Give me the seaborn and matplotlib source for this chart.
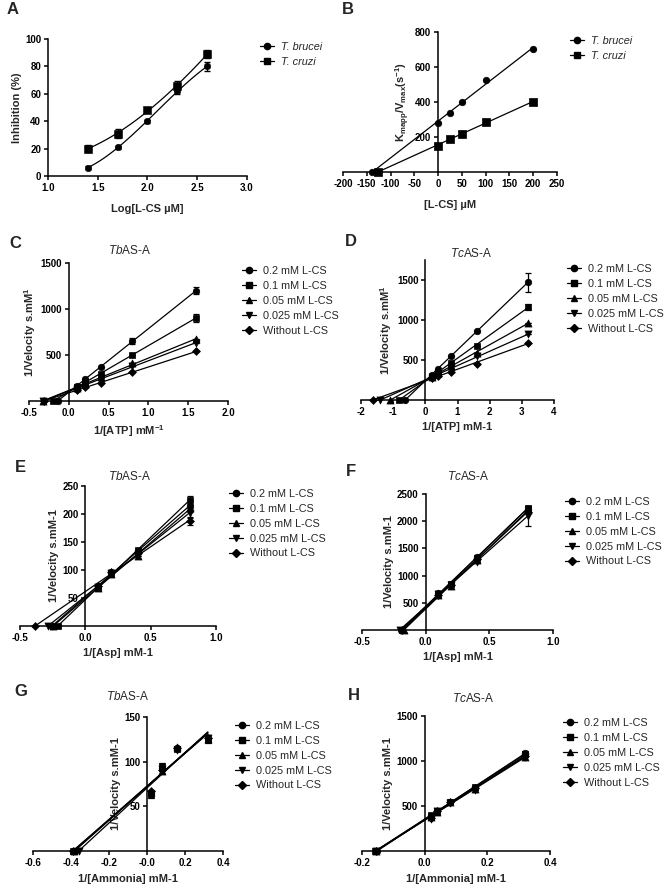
import numpy as np
import pandas as pd
import matplotlib
matplotlib.use("Agg")
import matplotlib.pyplot as plt
from matplotlib.lines import Line2D
import seaborn as sns

# ---- data ----
# A: inhibition vs log concentration
a_logc = [1.4, 1.7, 2.0, 2.3, 2.6]
a_brucei = [6, 21, 40, 62, 80]
a_brucei_err = [1, 1, 1, 2, 3]
a_cruzi = [20, 31, 48, 66, 89]
a_cruzi_err = [2.5, 3.5, 1.5, 3, 3]

# B: Kmapp/Vmax vs [L-CS]
b_conc = [0, 25, 50, 100, 200]
b_brucei = [280, 340, 400, 525, 700]
b_cruzi = [150, 190, 220, 285, 400]

conc_labels = ["0.2 mM L-CS", "0.1 mM L-CS", "0.05 mM L-CS", "0.025 mM L-CS", "Without L-CS"]

# C: TbAS-A, 1/[ATP]
c_x = [0.1, 0.2, 0.4, 0.8, 1.6]
c_y = [[165, 235, 370, 650, 1200],
       [150, 205, 295, 500, 905],
       [140, 185, 260, 410, 670],
       [130, 175, 245, 380, 630],
       [115, 150, 200, 310, 540]]
c_err = [[0, 0, 0, 35, 40], [0, 0, 0, 0, 45], [0, 0, 0, 0, 0], [0, 0, 0, 0, 0], [0, 0, 0, 0, 0]]

# D: TcAS-A, 1/[ATP]
d_x = [0.2, 0.4, 0.8, 1.6, 3.2]
d_y = [[315, 390, 555, 868, 1470],
       [300, 355, 460, 680, 1165],
       [290, 340, 420, 590, 965],
       [280, 325, 395, 545, 820],
       [275, 305, 350, 455, 715]]
d_err = [[0, 0, 0, 0, 115], [0, 0, 0, 0, 40], [0, 0, 0, 0, 0], [0, 0, 0, 0, 0], [0, 0, 0, 0, 0]]

# E: TbAS-A, 1/[Asp]
e_x = [0.1, 0.2, 0.4, 0.8]
e_y = [[70, 96, 133, 215],
       [67, 95, 135, 225],
       [68, 93, 125, 210],
       [69, 94, 128, 202],
       [72, 97, 130, 187]]
e_err = [[0, 0, 0, 8], [0, 0, 3, 8], [0, 0, 0, 6], [0, 0, 0, 8], [0, 0, 0, 6]]

# F: TcAS-A, 1/[Asp]
f_x = [0.1, 0.2, 0.4, 0.8]
f_y = [[680, 850, 1350, 2230],
       [670, 840, 1330, 2240],
       [650, 800, 1280, 2200],
       [660, 820, 1250, 2100],
       [640, 830, 1300, 2170]]
f_err = [[0, 0, 0, 40], [0, 0, 40, 40], [0, 0, 0, 0], [0, 0, 0, 180], [0, 0, 0, 0]]

# G: TbAS-A, 1/[Ammonia]
g_x = [0.02, 0.08, 0.16, 0.32]
g_y = [[65, 93, 115, 126],
       [63, 95, 114, 124],
       [66, 90, 116, 125],
       [64, 92, 113, 127],
       [67, 91, 115, 126]]
g_err = [[0, 0, 3, 0], [4, 3, 0, 3], [0, 0, 0, 0], [0, 0, 0, 0], [0, 0, 0, 0]]

# H: TcAS-A, 1/[Ammonia]
h_x = [0.02, 0.04, 0.08, 0.16, 0.32]
h_y = [[385, 445, 545, 705, 1085],
       [395, 440, 550, 710, 1075],
       [375, 435, 540, 690, 1050],
       [360, 445, 535, 680, 1040],
       [370, 450, 545, 695, 1060]]
h_err = [[30, 0, 0, 0, 25], [0, 0, 20, 20, 0], [0, 0, 0, 0, 0], [0, 0, 0, 0, 0], [0, 0, 0, 0, 0]]

markers = ["o", "s", "^", "v", "D"]
msizes = [22, 20, 26, 26, 16]

sns.set_theme(style="ticks")
plt.rcParams["font.family"] = ["Liberation Sans", "DejaVu Sans"]
plt.rcParams["mathtext.fontset"] = "custom"
plt.rcParams["mathtext.it"] = "Liberation Sans:italic"
plt.rcParams["mathtext.default"] = "regular"
plt.rcParams["axes.unicode_minus"] = False

W, H = 667, 886
fig = plt.figure(figsize=(W / 100, H / 100), dpi=100)
LEG = {"size": 7.8}


def pos(l, r, t, b):
    return [l / W, 1 - b / H, (r - l) / W, (b - t) / H]


def style_axes(ax, xlim, ylim, xticks, yticks, xlabel, ylabel, xticklabels=None, zero_spine=True,
               xpad=4):
    ax.set_xlim(*xlim)
    ax.set_ylim(*ylim)
    sns.despine(ax=ax)
    if zero_spine:
        ax.spines["left"].set_position(("data", 0))
    ax.spines["left"].set_bounds(ylim[0], max(yticks))
    for s in ("left", "bottom"):
        ax.spines[s].set_linewidth(1.1)
        ax.spines[s].set_color("black")
    ax.set_xticks(xticks)
    ax.set_xticklabels(xticklabels if xticklabels else [str(t) for t in xticks])
    ax.set_yticks(yticks)
    ax.set_yticklabels([str(t) for t in yticks])
    ax.tick_params(direction="out", length=3, width=1.1, labelsize=7, pad=2, colors="black")
    for lab in ax.get_xticklabels() + ax.get_yticklabels():
        lab.set_fontweight("bold")
    ax.set_xlabel(xlabel, fontsize=8, fontweight="bold", labelpad=xpad)
    ax.set_ylabel(ylabel, fontsize=8, fontweight="bold", labelpad=2)


def add_legend(ax, labels, mks, x_px, y_px, style="normal"):
    handles = [Line2D([0], [0], color="black", lw=0.9, marker=m, markersize=4.5) for m in mks]
    ax.legend(handles, labels, loc="upper left", bbox_to_anchor=(x_px / W, 1 - y_px / H),
              bbox_transform=fig.transFigure, frameon=False, borderpad=0, borderaxespad=0,
              handlelength=1.3, handletextpad=0.6, labelspacing=0.45,
              prop={**LEG, "style": style})


def lb_series(ax, x, y, err, marker, size):
    x = np.asarray(x, float)
    y = np.asarray(y, float)
    slope, icpt = np.polyfit(x, y, 1)
    x0 = -icpt / slope
    xs = np.array([x0, x.max()])
    ax.plot(xs, slope * xs + icpt, color="black", lw=0.9, clip_on=False)
    pts = pd.DataFrame({"x": np.append(x, x0), "y": np.append(y, 0)})
    sns.scatterplot(data=pts, x="x", y="y", marker=marker, s=size, color="black",
                    edgecolor="black", linewidth=0.5, ax=ax, clip_on=False, zorder=3)
    ax.errorbar(x, y, yerr=err, fmt="none", ecolor="black", elinewidth=0.9, capsize=2.2, capthick=0.9)


def kinetics_panel(rect, xs, ys, errs, xlim, ylim, xticks, yticks, xlabel, ylabel, leg_xy,
                   xticklabels=None):
    ax = fig.add_axes(pos(*rect))
    for y, e, m, s in zip(ys, errs, markers, msizes):
        lb_series(ax, xs, y, e, m, s)
    style_axes(ax, xlim, ylim, xticks, yticks, xlabel, ylabel, xticklabels)
    add_legend(ax, conc_labels, markers, *leg_xy)
    return ax


# ---- A ----
axA = fig.add_axes(pos(48, 247, 39, 176))
for y, e, m, s in [(a_brucei, a_brucei_err, "o", 22), (a_cruzi, a_cruzi_err, "s", 26)]:
    coef = np.polyfit(a_logc, y, 3)
    xx = np.linspace(min(a_logc), max(a_logc), 60)
    sns.lineplot(x=xx, y=np.polyval(coef, xx), color="black", lw=0.9, ax=axA)
    sns.scatterplot(x=a_logc, y=y, marker=m, s=s, color="black", edgecolor="black", ax=axA, zorder=3)
    axA.errorbar(a_logc, y, yerr=e, fmt="none", ecolor="black", elinewidth=0.9, capsize=2.2)
style_axes(axA, (1.0, 3.0), (0, 100), [1.0, 1.5, 2.0, 2.5, 3.0], [0, 20, 40, 60, 80, 100],
           "Log[L-CS \u00b5M]", "Inhibition (%)", zero_spine=False, xpad=8)
add_legend(axA, ["T. brucei", "T. cruzi"], ["o", "s"], 260, 42, style="italic")

# ---- B ----
axB = fig.add_axes(pos(343, 557, 32, 172))
for y, m, s in [(b_brucei, "o", 22), (b_cruzi, "s", 26)]:
    lb_series(axB, b_conc, y, [0] * len(y), m, s)
style_axes(axB, (-200, 250), (0, 800), list(range(-200, 251, 50)), [200, 400, 600, 800],
           "[L-CS] \u00b5M", "K$_{mapp}$/V$_{max}$(s$^{-1}$)", xpad=8)
add_legend(axB, ["T. brucei", "T. cruzi"], ["o", "s"], 570, 36, style="italic")

# ---- C-H ----
kinetics_panel((29, 228, 263, 401), c_x, c_y, c_err, (-0.5, 2.0), (0, 1500),
               [-0.5, 0.0, 0.5, 1.0, 1.5, 2.0], [500, 1000, 1500],
               "1/[ATP] mM$^{-1}$", "1/Velocity s.mM$^{1}$", (242, 266))
axD = kinetics_panel((361, 554, 260, 400), d_x, d_y, d_err, (-2, 4), (0, 1750),
                     [-2, -1, 0, 1, 2, 3, 4], [500, 1000, 1500],
                     "1/[ATP] mM-1", "1/Velocity s.mM$^{1}$", (567, 264))
axD.spines["left"].set_bounds(0, 1750)
kinetics_panel((20, 216, 486, 626), e_x, e_y, e_err, (-0.5, 1.0), (0, 250),
               [-0.5, 0.0, 0.5, 1.0], [50, 100, 150, 200, 250],
               "1/[Asp] mM-1", "1/Velocity s.mM-1", (229, 489))
kinetics_panel((362, 553, 494, 630), f_x, f_y, f_err, (-0.5, 1.0), (0, 2500),
               [-0.5, 0.0, 0.5, 1.0], [500, 1000, 1500, 2000, 2500],
               "1/[Asp] mM-1", "1/Velocity s.mM-1", (565, 497))
kinetics_panel((33, 223, 717, 851), g_x, g_y, g_err, (-0.6, 0.4), (0, 150),
               [-0.6, -0.4, -0.2, 0.0, 0.2, 0.4], [50, 100, 150],
               "1/[Ammonia] mM-1", "1/Velocity s.mM-1", (235, 721),
               xticklabels=["-0.6", "-0.4", "-0.2", "-0.0", "0.2", "0.4"])
kinetics_panel((362, 550, 716, 851), h_x, h_y, h_err, (-0.2, 0.4), (0, 1500),
               [-0.2, 0.0, 0.2, 0.4], [500, 1000, 1500],
               "1/[Ammonia] mM-1", "1/Velocity s.mM-1", (563, 718))

# titles and panel letters
for txt, x, y in [("$\\it{Tb}$AS-A", 130, 250), ("$\\it{Tc}$AS-A", 471, 253),
                  ("$\\it{Tb}$AS-A", 130, 476), ("$\\it{Tc}$AS-A", 468, 476),
                  ("$\\it{Tb}$AS-A", 128, 697), ("$\\it{Tc}$AS-A", 473, 699)]:
    fig.text(x / W, 1 - y / H, txt, ha="center", va="center", fontsize=8.5)
for txt, x, y in [("A", 13, 10), ("B", 348, 10), ("C", 15, 244), ("D", 351, 242),
                  ("E", 20, 468), ("F", 351, 472), ("G", 21, 692), ("H", 354, 695)]:
    fig.text(x / W, 1 - y / H, txt, ha="center", va="center", fontsize=12, fontweight="bold")

fig.savefig("out.png", dpi=100, facecolor="white")
